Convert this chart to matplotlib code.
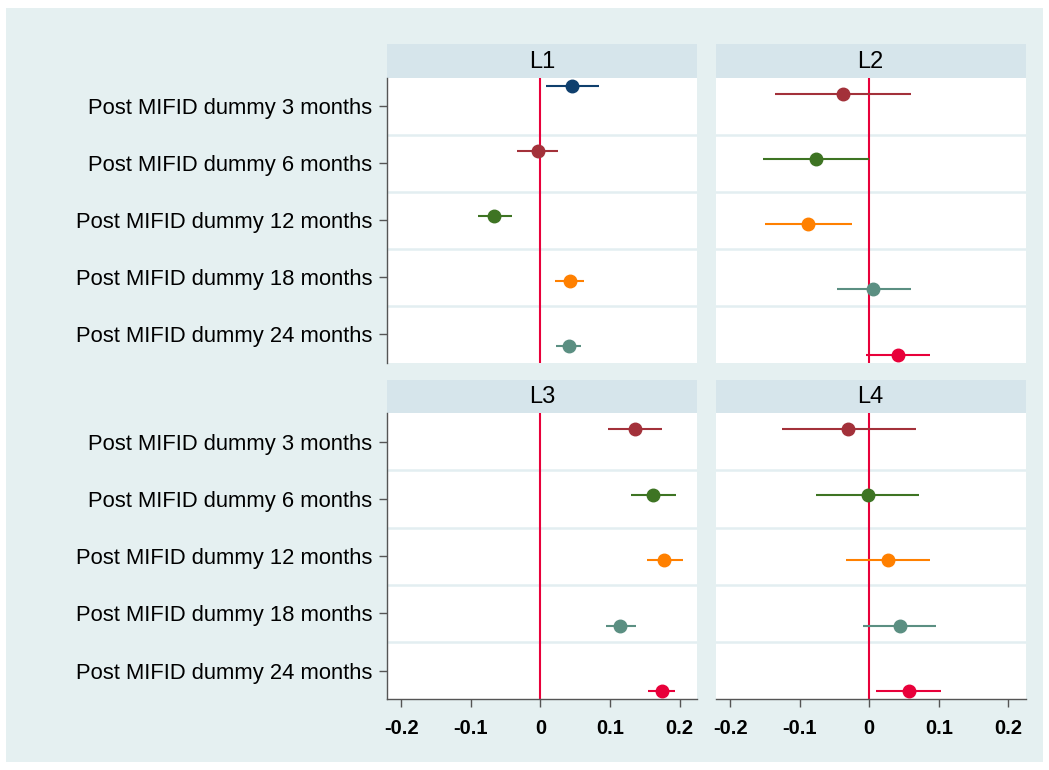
import matplotlib
matplotlib.use("Agg")
import matplotlib.pyplot as plt
from matplotlib.patches import Rectangle

plt.rcParams['font.family'] = ['Liberation Sans', 'DejaVu Sans']

categories = ["Post MIFID dummy 3 months", "Post MIFID dummy 6 months",
              "Post MIFID dummy 12 months", "Post MIFID dummy 18 months",
              "Post MIFID dummy 24 months"]
panels = ["L1", "L2", "L3", "L4"]

# model index (drives colour and vertical offset) for each category, per panel
model_L1 = [1, 2, 3, 4, 5]
model_L2 = [2, 3, 4, 5, 6]
model_L3 = [2, 3, 4, 5, 6]
model_L4 = [2, 3, 4, 5, 6]

coef_L1 = [0.046, -0.004, -0.067, 0.042, 0.041]
lo_L1 = [0.008, -0.034, -0.090, 0.021, 0.023]
hi_L1 = [0.084, 0.025, -0.041, 0.062, 0.058]

coef_L2 = [-0.038, -0.076, -0.088, 0.005, 0.041]
lo_L2 = [-0.135, -0.153, -0.150, -0.047, -0.005]
hi_L2 = [0.060, 0.000, -0.025, 0.060, 0.087]

coef_L3 = [0.136, 0.162, 0.178, 0.114, 0.174]
lo_L3 = [0.097, 0.130, 0.153, 0.094, 0.155]
hi_L3 = [0.175, 0.195, 0.205, 0.138, 0.194]

coef_L4 = [-0.031, -0.002, 0.027, 0.044, 0.057]
lo_L4 = [-0.126, -0.076, -0.034, -0.009, 0.010]
hi_L4 = [0.067, 0.072, 0.088, 0.096, 0.103]

xticks = [-0.2, -0.1, 0, 0.1, 0.2]
xticklabels = ["-0.2", "-0.1", "0", "0.1", "0.2"]

model_colors = {1: "#0f3f6d", 2: "#a3313a", 3: "#3e7423", 4: "#ff8000",
                5: "#5b8f82", 6: "#e8003a"}

data = {
    "L1": (model_L1, coef_L1, lo_L1, hi_L1),
    "L2": (model_L2, coef_L2, lo_L2, hi_L2),
    "L3": (model_L3, coef_L3, lo_L3, hi_L3),
    "L4": (model_L4, coef_L4, lo_L4, hi_L4),
}

W, H = 1049, 770
fig = plt.figure(figsize=(W / 100, H / 100), dpi=100)
fig.patch.set_facecolor("white")
bgcol = "#e5f0f1"
fig.add_artist(Rectangle((6 / W, 1 - 762 / H), (1043 - 6) / W, (762 - 8) / H,
                         transform=fig.transFigure, facecolor=bgcol,
                         edgecolor="none", zorder=-10))

cols_x = [(386.7, 697.0), (715.7, 1025.7)]
rows_y = [((44, 77.7), (77.7, 362.7)), ((380, 413), (413, 699.3))]

def fbox(x0, x1, y0, y1):
    return [x0 / W, 1 - y1 / H, (x1 - x0) / W, (y1 - y0) / H]

for idx, name in enumerate(panels):
    r, c = divmod(idx, 2)
    (hx0, hx1) = cols_x[c]
    (hy0, hy1), (py0, py1) = rows_y[r]
    # header strip
    hax = fig.add_axes(fbox(hx0, hx1, hy0, hy1))
    hax.set_facecolor("#d6e5eb")
    hax.set_xticks([]); hax.set_yticks([])
    for s in hax.spines.values():
        s.set_visible(False)
    hax.text(0.5, 0.47, name, ha="center", va="center", fontsize=17,
             transform=hax.transAxes, color="black")

    ax = fig.add_axes(fbox(hx0, hx1, py0, py1))
    ax.set_facecolor("white")
    models, coef, lo, hi = data[name]
    ax.set_xlim(-0.221, 0.225)
    ax.set_ylim(4.5, -0.5)
    for b in [0.5, 1.5, 2.5, 3.5]:
        ax.axhline(b, color="#e3eef1", lw=1.8, zorder=1)
    ax.axvline(0, color="#e8003a", lw=1.5, zorder=2)
    for i in range(len(categories)):
        m = models[i]
        y = i + (m - 3.5) * 0.143
        col = model_colors[m]
        ax.plot([lo[i], hi[i]], [y, y], color=col, lw=1.5, zorder=3,
                solid_capstyle="butt")
        ax.plot([coef[i]], [y], "o", color=col, ms=9, mec=col, zorder=4)
    for s in ["top", "right"]:
        ax.spines[s].set_visible(False)
    ax.spines["left"].set_visible(c == 0)
    ax.spines["bottom"].set_visible(r == 1)
    ax.spines["left"].set_color("#555555")
    ax.spines["bottom"].set_color("#555555")
    ax.spines["left"].set_linewidth(1.0)
    ax.spines["bottom"].set_linewidth(1.0)
    if c == 0:
        ax.set_yticks(range(len(categories)))
        ax.set_yticklabels(categories, fontsize=15.8)
        ax.tick_params(axis="y", length=6, width=1, color="#555555", pad=4.5)
    else:
        ax.set_yticks([])
    if r == 1:
        ax.set_xticks(xticks)
        ax.set_xticklabels(xticklabels, fontsize=14.5, fontweight="bold")
        ax.tick_params(axis="x", length=6, width=1, color="#555555", pad=8)
    else:
        ax.set_xticks([])

fig.savefig("out.png", dpi=100, facecolor="white")
